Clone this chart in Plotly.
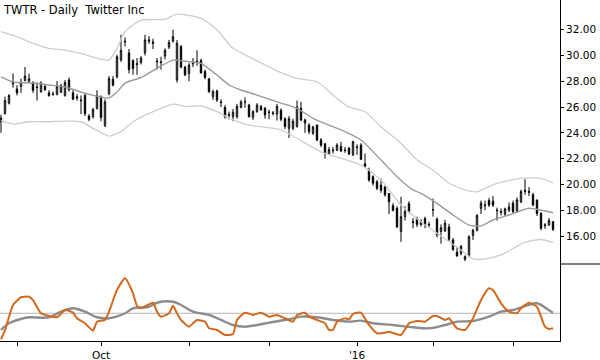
import plotly.graph_objects as go

# ---------------- data ----------------
# trading-day index 0 = 26 Aug 2015 ... 138 = 14 Mar 2016
opens = [24.85, 25.5, 26.3, 27.95, 27.4, 27.6, 28.05, 28.0, 27.9, 27.5,
         27.2, 27.6, 27.1, 26.95, 27.0, 27.15, 26.9, 28.1, 27.1, 26.8,
         26.55, 26.9, 25.3, 25.25, 25.9, 26.8, 24.55, 27.05, 28.15, 28.35,
         29.65, 31.05, 30.2, 29.6, 29.3, 29.45, 30.2, 31.1, 31.05, 29.5,
         29.45, 29.95, 30.65, 31.1, 28.1, 30.7, 29.1, 28.6, 29.35, 29.45,
         29.6, 28.75, 28.2, 26.8, 27.25, 26.4, 25.97, 25.35, 25.25, 25.25,
         25.97, 26.4, 26.15, 25.2, 25.65, 26.05, 25.9, 25.6, 25.55, 25.45,
         25.75, 25.1, 24.35, 24.35, 24.5, 25.9, 24.75, 24.6, 23.95, 24.6,
         23.45, 23.15, 22.35, 22.6, 22.65, 22.95, 22.65, 22.8, 22.3, 22.85,
         23.05, 21.6, 21.1, 20.6, 20.2, 19.95, 19.8, 19.3, 18.35, 18.15,
         16.35, 17.5, 18.5, 17.05, 17.35, 17.1, 17.35, 16.85, 18.0, 17.3,
         16.35, 16.4, 16.7, 15.7, 14.75, 14.65, 14.2, 14.5, 16.05, 16.45,
         18.15, 18.35, 18.75, 18.7, 17.95, 17.9, 17.7, 18.0, 18.55, 17.9,
         18.65, 19.45, 19.45, 19.2, 18.8, 17.75, 16.8, 16.85, 17.1]
highs = [25.4, 26.8, 27.0, 28.6, 27.7, 28.2, 29.1, 28.6, 28.0, 27.9,
         28.0, 27.75, 27.3, 27.2, 28.0, 27.8, 28.1, 28.3, 27.3, 27.0,
         26.9, 27.0, 25.45, 25.95, 27.3, 26.9, 26.6, 28.4, 28.4, 30.05,
         31.6, 31.4, 30.5, 29.7, 29.8, 29.95, 31.6, 31.5, 31.3, 29.8,
         29.9, 30.55, 31.2, 32.0, 31.2, 30.8, 29.2, 29.4, 29.8, 30.4,
         29.75, 28.9, 28.2, 27.35, 27.35, 26.6, 26.15, 25.65, 25.85, 26.25,
         26.55, 26.75, 26.25, 25.75, 26.3, 26.15, 26.0, 25.8, 25.7, 26.25,
         25.9, 25.2, 25.3, 25.1, 26.5, 26.4, 25.1, 24.75, 24.55, 24.65,
         23.6, 23.2, 22.9, 22.9, 23.2, 23.3, 22.9, 22.9, 23.4, 23.1,
         23.2, 22.4, 21.3, 20.7, 20.35, 20.45, 19.9, 19.3, 18.55, 18.3,
         19.05, 18.3, 18.7, 17.4, 17.5, 17.3, 17.5, 17.1, 18.9, 17.45,
         16.9, 17.25, 16.95, 15.85, 15.15, 15.3, 14.5, 16.05, 16.55, 17.7,
         18.75, 18.75, 18.95, 19.1, 18.2, 18.15, 18.2, 18.6, 18.75, 19.0,
         19.6, 20.4, 19.8, 19.35, 18.8, 17.85, 17.0, 17.4, 17.15]
lows = [24.0, 25.4, 26.2, 27.5, 26.9, 27.1, 28.0, 27.9, 27.1, 26.5,
        27.1, 27.25, 26.8, 26.9, 26.9, 27.1, 26.8, 27.2, 26.55, 26.5,
        25.45, 25.3, 24.9, 25.1, 25.8, 24.9, 24.45, 26.9, 27.6, 28.2,
        29.5, 30.7, 28.6, 28.5, 28.5, 29.3, 30.0, 30.9, 30.5, 28.9,
        28.9, 29.7, 30.5, 31.0, 27.9, 29.0, 28.4, 28.0, 29.1, 29.2,
        28.6, 28.15, 27.1, 26.55, 26.4, 26.0, 25.1, 25.05, 24.9, 25.1,
        25.9, 25.95, 25.2, 25.0, 25.55, 25.7, 25.1, 25.05, 25.35, 24.95,
        24.9, 24.3, 23.6, 24.2, 24.4, 24.9, 24.0, 23.9, 23.85, 23.35,
        22.9, 22.0, 22.3, 22.4, 22.6, 22.5, 22.45, 22.3, 22.2, 22.3,
        21.9, 21.3, 20.2, 19.9, 19.55, 19.35, 19.05, 17.7, 17.9, 16.65,
        15.55, 17.2, 17.75, 16.6, 16.7, 16.75, 16.6, 16.7, 17.5, 15.9,
        15.4, 16.3, 15.6, 14.85, 14.4, 14.5, 14.05, 14.35, 15.7, 16.35,
        17.7, 18.0, 18.25, 18.25, 17.2, 17.6, 17.55, 17.85, 17.75, 17.8,
        18.55, 19.2, 19.1, 18.3, 17.55, 16.45, 16.55, 16.8, 16.4]
closes = [25.15, 26.5, 26.9, 27.8, 27.1, 27.9, 28.4, 28.2, 27.3, 27.55,
          27.85, 27.35, 26.9, 27.0, 27.6, 27.65, 27.9, 27.35, 26.6, 26.7,
          26.5, 25.5, 25.05, 25.8, 26.9, 25.2, 26.4, 28.2, 27.7, 29.9,
          30.4, 31.1, 28.9, 29.0, 29.35, 29.8, 31.2, 31.2, 30.95, 29.55,
          29.5, 30.4, 31.0, 31.45, 30.95, 29.1, 28.5, 29.25, 29.45, 29.55,
          28.65, 28.3, 27.2, 27.2, 26.55, 26.35, 25.25, 25.4, 25.6, 26.05,
          26.4, 26.4, 25.25, 25.65, 26.15, 25.8, 25.4, 25.6, 25.5, 26.05,
          25.05, 24.5, 25.1, 24.9, 26.0, 25.0, 25.0, 24.1, 24.45, 23.45,
          23.05, 22.4, 22.7, 22.65, 23.05, 22.6, 22.65, 22.35, 23.3, 22.9,
          21.95, 21.4, 20.35, 20.1, 19.7, 19.55, 19.2, 18.65, 18.0, 16.7,
          17.5, 17.9, 17.9, 17.1, 16.9, 16.9, 16.85, 16.9, 18.05, 16.1,
          16.65, 17.0, 15.75, 14.95, 14.45, 15.2, 14.4, 15.95, 16.45, 17.6,
          18.55, 18.4, 18.4, 18.4, 18.0, 17.85, 18.1, 18.25, 17.9, 18.8,
          19.45, 19.55, 19.4, 18.4, 17.75, 16.6, 16.85, 17.2, 16.5]

# channel lines (read at sampled trading days)
mid_day = [0, 3, 8, 12, 16, 20, 25, 27, 29, 31, 35, 39, 43, 47, 50, 54, 57, 60, 64,
           70, 74, 78, 82, 86, 90, 95, 99, 103, 105, 109, 113, 117, 120, 123, 127,
           132, 135, 138]
mid_val = [28.33, 27.94, 27.86, 27.71, 27.55, 27.16, 26.78, 26.7, 27.16, 27.86,
           28.29, 29.0, 29.64, 29.51, 29.39, 28.48, 27.71, 27.32, 26.93,
           26.31, 25.9, 25.12, 24.6, 24.09, 23.44, 21.89, 20.6, 19.57, 19.31,
           18.53, 17.63, 16.85, 16.78, 17.24, 17.63, 18.15, 18.0, 17.8]
up_day = [0, 4, 8, 12, 16, 20, 25, 27, 29, 31, 35, 41, 44, 50, 54, 58, 62, 69,
          74, 79, 84, 87, 91, 95, 100, 104, 108, 112, 116, 119, 121, 124, 130,
          135, 138]
up_val = [31.84, 31.45, 30.94, 30.55, 30.42, 30.16, 29.7, 29.64, 30.55, 31.84,
          32.74, 32.8, 33.2, 32.88, 31.97, 30.55, 29.9, 28.81, 28.22, 27.96,
          26.67, 26.0, 25.64, 24.47, 23.19, 21.89, 21.12, 20.09, 19.57, 19.43,
          19.7, 20.09, 20.47, 20.47, 20.12]
lo_day = [0, 3, 7, 12, 16, 20, 23, 27, 30, 33, 38, 43, 46, 50, 54, 58, 62, 70,
          80, 90, 95, 100, 105, 110, 115, 118, 121, 125, 131, 135, 138]
lo_val = [24.94, 24.68, 24.86, 24.86, 24.91, 24.86, 24.35, 23.75, 24.09, 24.86,
          25.64, 26.23, 26.04, 26.08, 25.64, 25.0, 24.6, 24.22, 22.53, 21.5,
          20.34, 18.4, 17.09, 16.0, 14.91, 14.22, 14.22, 14.53, 15.53, 15.73,
          15.5]

# lower pane oscillator (0-100 scale)
osc_day = [0, 1, 3, 5, 7, 8, 10, 12, 14, 16, 18, 19, 21, 23, 24, 26, 27, 29, 31,
           33, 34, 35, 38, 39, 40, 42, 43, 44, 45, 47, 48, 49, 51, 52, 54, 56, 58,
           59, 61, 63, 65, 67, 69, 71, 73, 74, 76, 77, 79, 81, 82, 83, 84, 86, 87,
           88, 89, 90, 92, 94, 96, 97, 100, 102, 104, 106, 108, 109, 111, 112,
           114, 116, 118, 120, 122, 123, 125, 127, 129, 130, 132, 134, 135, 136,
           137, 138]
osc_val = [2.2, 14.0, 46.8, 56.8, 57.5, 53.2, 36.0, 32.5, 30.8, 40.3, 36.8,
           29.5, 23.0, 13.4, 25.1, 27.3, 38.1, 66.2, 81.4, 61.9, 45.5, 42.5,
           49.7, 38.1, 31.6, 36.0, 45.8, 36.0, 27.3, 18.6, 23.0, 27.3, 25.1,
           16.5, 14.3, 7.8, 9.1, 27.3, 36.8, 33.8, 36.8, 31.6, 33.8, 29.5, 25.1,
           33.8, 36.8, 31.6, 27.3, 23.0, 14.3, 14.3, 25.1, 29.5, 28.2, 35.1,
           36.8, 36.8, 20.8, 10.0, 10.8, 12.1, 7.8, 23.0, 26.0, 25.1, 32.5,
           32.5, 27.3, 29.5, 16.5, 14.3, 29.5, 53.2, 68.4, 66.2, 49.0, 38.1,
           36.0, 42.5, 49.7, 44.5, 31.6, 18.6, 15.6, 16.5]
sig_day = [0, 2, 5, 7, 12, 15, 18, 21, 24, 27, 31, 33, 37, 39, 43, 45, 48, 52,
           55, 58, 61, 64, 67, 72, 75, 79, 83, 87, 90, 93, 98, 103, 107, 111,
           114, 118, 122, 125, 128, 132, 134, 137, 138]
sig_val = [14.3, 23.0, 28.6, 30.8, 30.8, 38.1, 42.5, 38.1, 30.8, 29.5, 36.0,
           42.5, 44.5, 49.7, 51.0, 46.8, 38.1, 33.8, 27.3, 20.8, 18.6, 20.8,
           23.8, 28.2, 31.6, 30.8, 27.3, 25.1, 26.4, 23.0, 20.8, 17.8, 16.5,
           20.8, 25.1, 26.0, 31.6, 38.1, 40.3, 46.8, 49.0, 40.0, 36.8]
osc_ref = 36.0

price_ticks = [16, 18, 20, 22, 24, 26, 28, 30, 32]
month_days = [4, 25, 47, 67, 89, 108, 128]
month_labels = ["", "Oct", "", "", "'16", "", ""]
title_text = "TWTR - Daily\u00a0 Twitter Inc"

# ---------------- figure ----------------
FONT = "DejaVu Sans"
split = 77 / 341.0
days = list(range(len(closes)))

fig = go.Figure()
fig.add_trace(go.Scatter(x=up_day, y=up_val, mode="lines",
                         line=dict(color="#cdcdcd", width=1.3, shape="spline", smoothing=0.6),
                         hoverinfo="skip"))
fig.add_trace(go.Scatter(x=lo_day, y=lo_val, mode="lines",
                         line=dict(color="#cdcdcd", width=1.3, shape="spline", smoothing=0.6),
                         hoverinfo="skip"))
fig.add_trace(go.Scatter(x=mid_day, y=mid_val, mode="lines",
                         line=dict(color="#9a9a9a", width=1.4, shape="spline", smoothing=0.6),
                         hoverinfo="skip"))
fig.add_trace(go.Candlestick(
    x=days, open=opens, high=highs, low=lows, close=closes,
    increasing=dict(line=dict(color="black", width=1), fillcolor="white"),
    decreasing=dict(line=dict(color="black", width=1), fillcolor="black"),
    whiskerwidth=0, xaxis="x", yaxis="y"))

fig.add_trace(go.Scatter(x=[-1, 140], y=[osc_ref, osc_ref], mode="lines",
                         line=dict(color="#b4b4b4", width=1), xaxis="x", yaxis="y2"))
fig.add_trace(go.Scatter(x=sig_day, y=sig_val, mode="lines",
                         line=dict(color="#8c8c8c", width=2.4, shape="spline"),
                         xaxis="x", yaxis="y2"))
fig.add_trace(go.Scatter(x=osc_day, y=osc_val, mode="lines",
                         line=dict(color="#d2691e", width=2, shape="spline", smoothing=0.5),
                         xaxis="x", yaxis="y2"))

fig.update_layout(
    width=600, height=360,
    margin=dict(l=0, r=40, t=0, b=19),
    paper_bgcolor="white", plot_bgcolor="white",
    showlegend=False, boxgap=0.5,
    font=dict(family=FONT, size=10.5, color="black"),
    xaxis=dict(range=[-0.25, 139.75], anchor="y2", rangeslider=dict(visible=False),
               showgrid=False, zeroline=False, showline=True, linecolor="black",
               linewidth=1, ticks="outside", ticklen=4, tickcolor="black",
               tickvals=month_days, ticktext=month_labels, automargin=False,
               tickfont=dict(family=FONT, size=10.5, color="black")),
    yaxis=dict(domain=[split, 1], range=[13.83, 34.3], side="right",
               showgrid=False, zeroline=False, showline=True, linecolor="black",
               linewidth=1, ticks="outside", ticklen=3, tickcolor="black",
               tickvals=price_ticks, ticktext=[f"{v:.2f}" for v in price_ticks],
               automargin=False,
               tickfont=dict(family=FONT, size=10.5, color="black")),
    yaxis2=dict(domain=[0, split], range=[0, 100], side="right", anchor="x",
                showgrid=False, zeroline=False, showline=True, linecolor="black",
                linewidth=1, showticklabels=False, ticks="", automargin=False),
)
fig.add_shape(type="line", xref="paper", yref="paper", x0=1, x1=1 + 40 / 560.0,
              y0=split, y1=split, line=dict(color="black", width=1))
fig.add_annotation(text=title_text, xref="paper", yref="paper", x=0, y=1,
                   xanchor="left", yanchor="top", showarrow=False, xshift=1, yshift=-1,
                   font=dict(family=FONT, size=11.5, color="black"))

fig.write_html("out.html", config={"displayModeBar": False},
               post_script="document.body.style.margin='0';")
